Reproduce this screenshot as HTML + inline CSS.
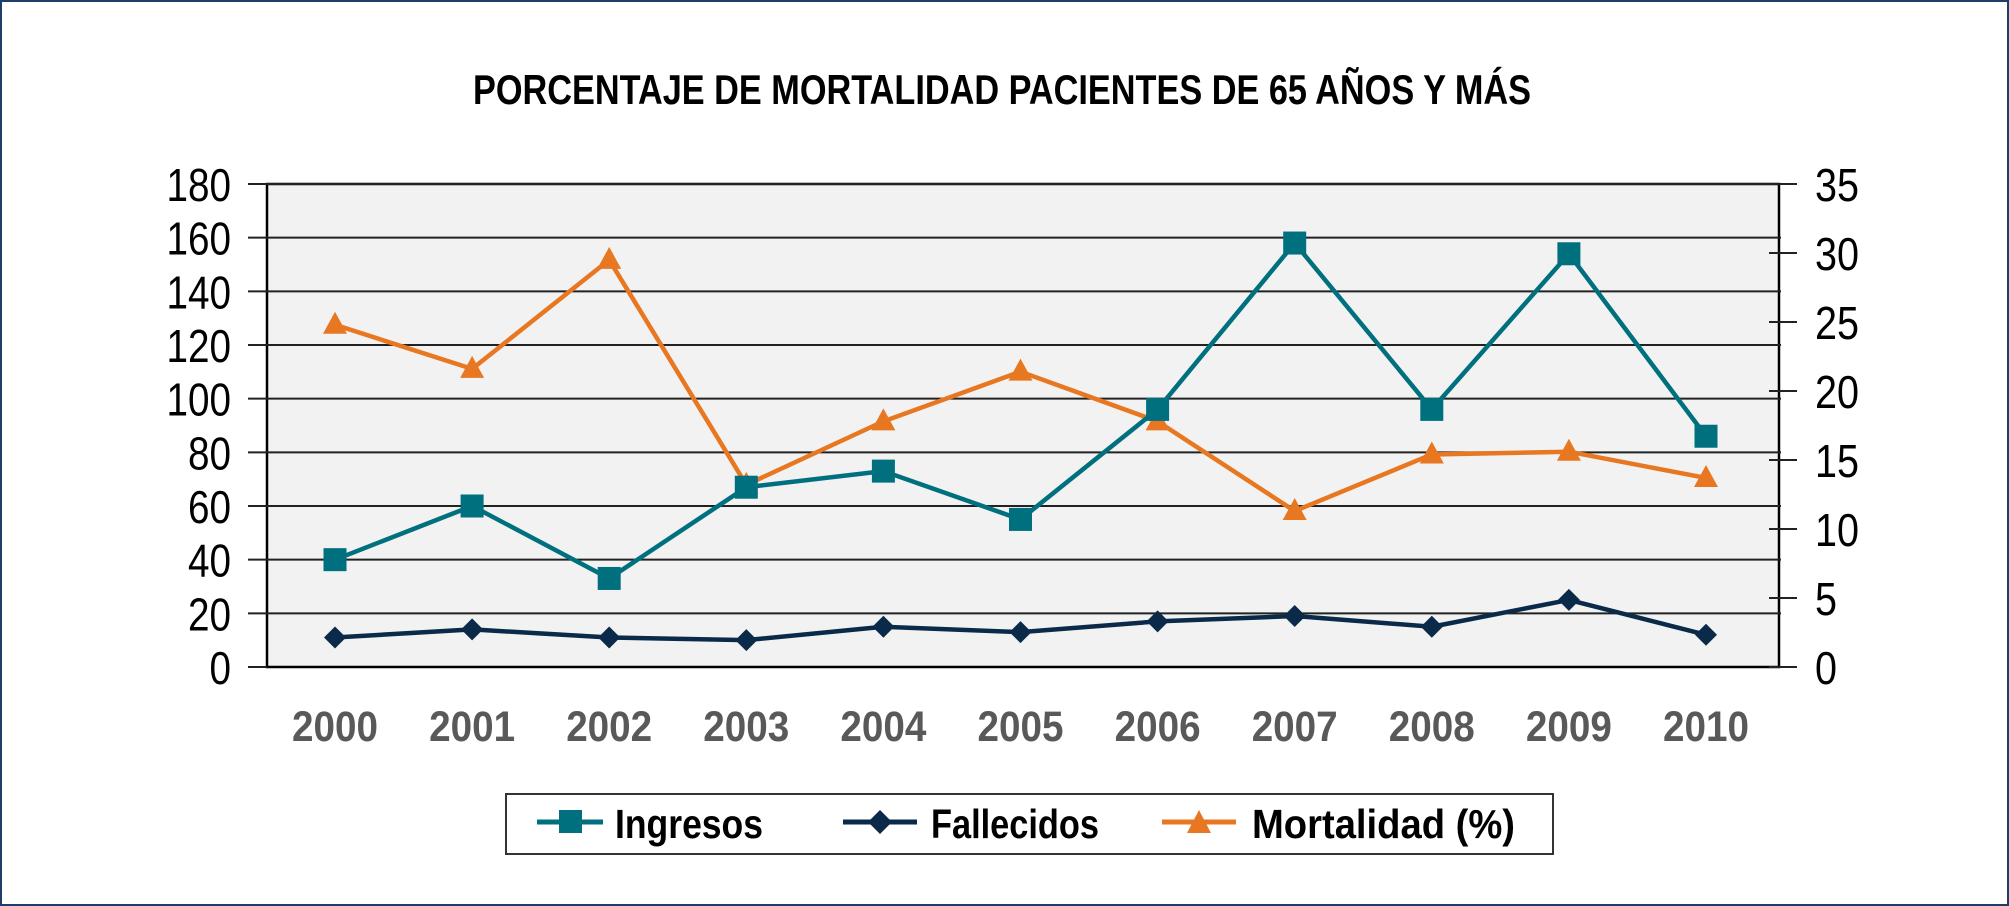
<!DOCTYPE html>
<html><head><meta charset="utf-8"><style>
html,body{margin:0;padding:0;background:#fff}
svg{display:block}
text{font-family:"Liberation Sans",sans-serif}
</style></head><body>
<svg id="chart" width="2009" height="906" viewBox="0 0 2009 906">
<rect x="1" y="1" width="2007" height="904" fill="#fff" stroke="#1f3d6b" stroke-width="2"/>
<text x="1002" y="104" text-anchor="middle" font-size="42" font-weight="bold" textLength="1058" lengthAdjust="spacingAndGlyphs">PORCENTAJE DE MORTALIDAD PACIENTES DE 65 AÑOS Y MÁS</text>
<rect x="267" y="184" width="1512" height="483" fill="#f2f2f2" stroke="#000" stroke-width="2.5"/>
<g id="grid"></g><g id="axes"></g><g id="series"></g>
<g>
<rect x="506" y="794" width="1047" height="60" fill="#fff" stroke="#333" stroke-width="2"/>
<g>
<line x1="537" y1="822" x2="603" y2="822" stroke="#00707f" stroke-width="5"/>
<rect x="559" y="810" width="23" height="23" fill="#00707f"/>
<text x="615" y="838" font-size="41" font-weight="bold" textLength="148" lengthAdjust="spacingAndGlyphs">Ingresos</text></g>
<g>
<line x1="843" y1="822" x2="917" y2="822" stroke="#0b2a4a" stroke-width="5"/>
<polygon points="880,810 892,822 880,834 868,822" fill="#0b2a4a"/>
<text x="931" y="838" font-size="41" font-weight="bold" textLength="168" lengthAdjust="spacingAndGlyphs">Fallecidos</text></g>
<g>
<line x1="1162" y1="822" x2="1236" y2="822" stroke="#e87722" stroke-width="5"/>
<polygon points="1199,810 1211,833 1187,833" fill="#e87722"/>
<text x="1252" y="838" font-size="41" font-weight="bold" textLength="263" lengthAdjust="spacingAndGlyphs">Mortalidad (%)</text></g>
</g>
</svg>
<script>
const years = ["2000","2001","2002","2003","2004","2005","2006","2007","2008","2009","2010"];
const ingresos = [40, 60, 33, 67, 73, 55, 96, 158, 96, 154, 86];
const fallecidos = [11, 14, 11, 10, 15, 13, 17, 19, 15, 25, 12];
const mortalidad = [24.8, 21.6, 29.5, 13.2, 17.8, 21.4, 17.8, 11.3, 15.4, 15.6, 13.7];
const leftTicks = [0, 20, 40, 60, 80, 100, 120, 140, 160, 180];
const rightTicks = [0, 5, 10, 15, 20, 25, 30, 35];

const NS = "http://www.w3.org/2000/svg";
const X0 = 335, X1 = 1706, TOP = 184, BOT = 667;
const xs = i => X0 + (X1 - X0) * i / (years.length - 1);
const yL = v => BOT - (BOT - TOP) * v / 180;
const yR = v => BOT - (BOT - TOP) * v / 35;
function mk(tag, attrs, parent) {
  const e = document.createElementNS(NS, tag);
  for (const k in attrs) e.setAttribute(k, attrs[k]);
  parent.appendChild(e); return e;
}
const grid = document.getElementById('grid'), axes = document.getElementById('axes'), ser = document.getElementById('series');
leftTicks.forEach(t => {
  const y = yL(t);
  if (t > 0) {
    const g = mk('line', {x1: 248, x2: 1781, y1: y, y2: y, stroke: '#222', 'stroke-width': 2}, grid);
    
    
  } else {
    mk('line', {x1: 248, x2: 267, y1: y, y2: y, stroke: '#222', 'stroke-width': 2}, grid);
  }
  const s = String(t);
  const tx = mk('text', {x: 231, y: y + 17, 'text-anchor': 'end', 'font-size': 46, fill: '#000', textLength: s.length * 21.5, lengthAdjust: 'spacingAndGlyphs'}, axes);
  tx.textContent = s;
  
  
});
rightTicks.forEach(t => {
  const y = yR(t);
  mk('line', {x1: 1769, x2: 1797, y1: y, y2: y, stroke: '#222', 'stroke-width': 2}, axes);
  const s = String(t);
  const tx = mk('text', {x: 1815, y: y + 17, 'font-size': 46, fill: '#000', textLength: s.length * 22, lengthAdjust: 'spacingAndGlyphs'}, axes);
  tx.textContent = s;
  
  
});
years.forEach((yr, i) => {
  const tx = mk('text', {x: xs(i), y: 741, 'text-anchor': 'middle', 'font-size': 43, 'font-weight': 'bold', fill: '#595959', textLength: 86, lengthAdjust: 'spacingAndGlyphs'}, axes);
  tx.textContent = yr;
  
  
});
function series(vals, yf, color, shape, name) {
  const g = mk('g', {}, ser);
  
  
  const pl = mk('polyline', {points: vals.map((v, i) => xs(i) + ',' + yf(v)).join(' '), fill: 'none', stroke: color, 'stroke-width': 4.5, 'stroke-linejoin': 'round'}, g);
  
  
  vals.forEach((v, i) => {
    const x = xs(i), y = yf(v); let m;
    if (shape === 'square') m = mk('rect', {x: x - 11.5, y: y - 11.5, width: 23, height: 23, fill: color}, g);
    else if (shape === 'diamond') m = mk('polygon', {points: `${x},${y-11} ${x+11},${y} ${x},${y+11} ${x-11},${y}`, fill: color}, g);
    else m = mk('polygon', {points: `${x},${y-13} ${x+12},${y+9} ${x-12},${y+9}`, fill: color}, g);
    
    
  });
}
series(mortalidad, yR, '#e87722', 'triangle', 'mortalidad');
series(ingresos, yL, '#00707f', 'square', 'ingresos');
series(fallecidos, yL, '#0b2a4a', 'diamond', 'fallecidos');
</script>
</body></html>
